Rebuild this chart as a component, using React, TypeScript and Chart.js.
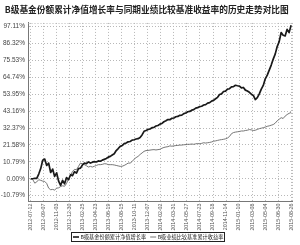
import { useEffect, useRef } from 'react';
import { Chart, registerables } from 'chart.js';

Chart.register(...registerables);

const titleText = 'B级基金份额累计净值增长率与同期业绩比较基准收益率的历史走势对比图';
const seriesNames = ['B级基金份额累计净值增长率', 'B级业绩比较基准累计收益率'];

const dateLabels = [
  '2012-07-12', '2012-09-07', '2012-11-03', '2012-12-30', '2013-02-25', '2013-04-23', '2013-06-19',
  '2013-08-15', '2013-10-11', '2013-12-07', '2014-02-02', '2014-03-31', '2014-05-27', '2014-07-23',
  '2014-09-18', '2014-11-14', '2015-01-10', '2015-03-08', '2015-05-04', '2015-06-30', '2015-08-26',
];
const tickPositions = [
  0, 6.55, 13.1, 19.65, 26.2, 32.75, 39.3, 45.85, 52.4, 58.95, 65.5,
  72.05, 78.6, 85.15, 91.7, 98.25, 104.8, 111.35, 117.9, 124.45, 131,
];
const yTickValues = [-10.79, 0, 10.79, 21.58, 32.37, 43.16, 53.95, 64.74, 75.53, 86.32, 97.11];

const fundReturn = [
  0, 0, 0.3, 0.2, 3, 6.5, 11.8, 12.6, 8.5, 10,
  4, 6.2, 1.5, 3.8, -1.5, -4.2, -1, -3.2, 0.8, -0.6,
  2.6, 2, 4.5, 3.6, 6.5, 6.8, 8.8, 10, 9.6, 10.8,
  10, 10.6, 10.9, 10.7, 11.4, 11.2, 11.9, 12.4, 12.9, 13.8,
  14.3, 15.2, 16, 18, 19.3, 20.7, 21.2, 22.4, 22.8, 23.6,
  23.8, 24.7, 24.9, 25.4, 25.6, 26.4, 28, 30.3, 30.8, 31.5,
  31.8, 32.6, 32.8, 33.7, 34, 34.9, 35.3, 36.4, 37, 37.8,
  37.7, 38.6, 38.8, 39.6, 39.8, 40.5, 40.6, 41.6, 42, 42.8,
  43, 43.8, 44.1, 45.1, 45.4, 46.1, 46.3, 47.1, 47.3, 48.3,
  48.6, 49.6, 50.1, 51.1, 52, 53.8, 54.2, 55.7, 56, 57.2,
  57.5, 58.7, 58.8, 59.7, 59.4, 59.2, 58, 58.3, 56.6, 56,
  55.2, 54, 53.2, 50.6, 51.8, 54.2, 57.2, 59.6, 63.8, 66.2,
  69.4, 72.6, 76.4, 79.6, 84.4, 87.6, 93.4, 91.6, 91.2, 95.4,
  93.3, 98,
];

const benchmarkReturn = [
  0, -0.5, -2.8, -2, -0.6, -1, -1.5, -1.7, -3, -6,
  -7, -6.8, -7.2, -6, -5.8, -5, -4.5, -4.8, -3, 0,
  2, 4.7, 6, 5.8, 7.9, 10, 9.5, 9, 8.3, 7.5,
  7.9, 7.5, 8, 8.5, 9, 9, 9.2, 9.6, 9.5, 9,
  9, 9, 8.8, 8.5, 8.2, 7.9, 8, 8.5, 9.2, 10,
  10, 11, 12.5, 13.5, 14.3, 15.5, 16.5, 17.5, 18, 18.1,
  18.3, 18.5, 18.6, 18.4, 18.6, 18.8, 19.5, 20, 20.3, 20.5,
  21, 20.8, 21, 21.2, 21.3, 21.5, 21.5, 21.7, 21.8, 22,
  22, 22.2, 22, 22.3, 22.5, 22.3, 22.6, 23, 22.8, 23,
  23.2, 23.5, 24, 24.2, 24.5, 24.8, 25, 25.2, 25.5, 26,
  27, 28.8, 29.5, 29.8, 30, 30.2, 30.5, 30.5, 30.8, 31,
  31.4, 31.2, 30.8, 31, 31.5, 32, 32.3, 32.6, 33, 33.5,
  33.8, 34.2, 34.6, 35.5, 37, 38, 39, 38.5, 40, 41,
  41.8, 42.3,
];

const fundColor = '#1a1a1a';
const benchColor = '#666666';
const gridColor = '#b8b8b8';
const legendFont = "5.2px 'Noto Sans CJK SC'";

const frameAndLegend = {
  id: 'frameAndLegend',
  beforeDatasetsDraw(chart: any) {
    const { ctx, chartArea } = chart;
    ctx.save();
    ctx.strokeStyle = gridColor;
    ctx.lineWidth = 1;
    ctx.setLineDash([1, 2]);
    ctx.beginPath();
    ctx.moveTo(chartArea.left, Math.round(chartArea.top) + 0.5);
    ctx.lineTo(chartArea.right, Math.round(chartArea.top) + 0.5);
    ctx.moveTo(Math.round(chartArea.right) - 0.5, chartArea.top);
    ctx.lineTo(Math.round(chartArea.right) - 0.5, chartArea.bottom);
    ctx.stroke();
    ctx.restore();
  },
  afterDraw(chart: any) {
    const { ctx } = chart;
    ctx.save();
    ctx.font = legendFont;
    const w1 = ctx.measureText(seriesNames[0]).width;
    const w2 = ctx.measureText(seriesNames[1]).width;
    const marker = 6;
    const gap = 1.5;
    const itemGap = 4;
    const pad = 1.5;
    const total = pad + marker + gap + w1 + itemGap + marker + gap + w2 + pad;
    const cx = 147.5;
    const x0 = Math.round(cx - total / 2) + 0.5;
    const y0 = 232.5;
    const h = 9;
    ctx.fillStyle = '#fff';
    ctx.fillRect(x0, y0, Math.round(total), h);
    ctx.strokeStyle = '#222';
    ctx.lineWidth = 1;
    ctx.strokeRect(x0, y0, Math.round(total), h);
    const my = y0 + h / 2;
    let x = x0 + pad;
    ctx.lineWidth = 1.6;
    ctx.strokeStyle = fundColor;
    ctx.beginPath();
    ctx.moveTo(x, my);
    ctx.lineTo(x + marker, my);
    ctx.stroke();
    x += marker + gap;
    ctx.fillStyle = '#222';
    ctx.textBaseline = 'middle';
    ctx.textAlign = 'left';
    ctx.fillText(seriesNames[0], x, my + 0.3);
    x += w1 + itemGap;
    ctx.lineWidth = 0.9;
    ctx.strokeStyle = benchColor;
    ctx.beginPath();
    ctx.moveTo(x, my);
    ctx.lineTo(x + marker, my);
    ctx.stroke();
    x += marker + gap;
    ctx.fillText(seriesNames[1], x, my + 0.3);
    ctx.restore();
  },
};

export default function App() {
  const canvasRef = useRef<HTMLCanvasElement | null>(null);

  useEffect(() => {
    document.body.style.margin = '0';
    const canvas = canvasRef.current;
    if (!canvas) return;
    const chart = new Chart(canvas, {
      type: 'line',
      data: {
        datasets: [
          {
            label: seriesNames[0],
            data: fundReturn.map((v, i) => ({ x: i, y: v })),
            borderColor: fundColor,
            borderWidth: 1.7,
            pointRadius: 0,
            tension: 0,
            borderJoinStyle: 'round',
          },
          {
            label: seriesNames[1],
            data: benchmarkReturn.map((v, i) => ({ x: i, y: v })),
            borderColor: benchColor,
            borderWidth: 0.9,
            pointRadius: 0,
            tension: 0,
          },
        ],
      },
      options: {
        responsive: false,
        animation: false,
        layout: { padding: { top: 0, right: 6.5, bottom: 14, left: 0 } },
        plugins: {
          legend: { display: false },
          tooltip: { enabled: false },
          title: {
            display: true,
            text: titleText,
            color: '#222',
            font: { family: "'Noto Sans CJK SC'", size: 8.7, weight: 'bold', lineHeight: 1.2 },
            padding: { top: 4, bottom: 8.5 },
          },
        },
        scales: {
          x: {
            type: 'linear',
            min: -1.15,
            max: 131.85,
            afterBuildTicks: (scale: any) => {
              scale.ticks = tickPositions.map((v) => ({ value: v }));
            },
            afterFit: (scale: any) => {
              scale.height = 30;
            },
            ticks: {
              autoSkip: false,
              minRotation: 90,
              maxRotation: 90,
              padding: 2.5,
              color: '#555',
              font: { family: "'Liberation Sans'", size: 5.3 },
              callback: (_v: any, i: number) => dateLabels[i],
            },
            grid: { color: gridColor, lineWidth: 1, drawTicks: false },
            border: { display: true, color: '#777', width: 1, dash: [1, 2] },
          },
          y: {
            min: -14.2,
            max: 99.5,
            afterBuildTicks: (scale: any) => {
              scale.ticks = yTickValues.map((v) => ({ value: v }));
            },
            afterFit: (scale: any) => {
              scale.width = 28.5;
            },
            ticks: {
              padding: 3.5,
              color: '#444',
              font: { family: "'Liberation Sans'", size: 6.5 },
              callback: (v: any) => Number(v).toFixed(2) + '%',
            },
            grid: { color: gridColor, lineWidth: 1, drawTicks: false },
            border: { display: true, color: '#777', width: 1, dash: [1, 2] },
          },
        },
      },
      plugins: [frameAndLegend],
    });
    return () => chart.destroy();
  }, []);

  return (
    <div style={{ width: 300, height: 245, background: '#fff' }}>
      <canvas ref={canvasRef} width={300} height={245} />
    </div>
  );
}
